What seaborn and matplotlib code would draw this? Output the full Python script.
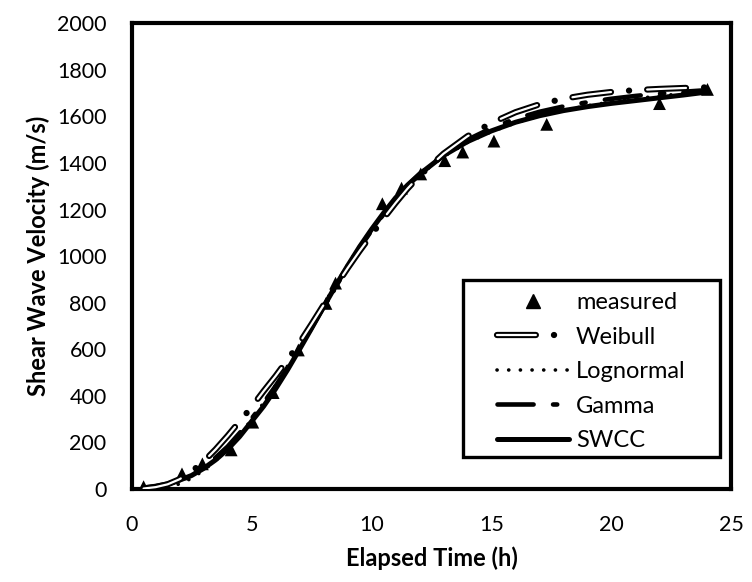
import matplotlib
matplotlib.use('Agg')
import matplotlib.pyplot as plt
import seaborn as sns
from matplotlib.lines import Line2D
from matplotlib.patches import Rectangle
from matplotlib.legend_handler import HandlerTuple

# measured points
t_meas = [0.5, 2.1, 2.95, 4.15, 5.05, 5.9, 6.95, 8.1, 8.5, 10.45, 11.25, 12.05,
          13.05, 13.8, 15.1, 17.3, 22.0, 24.0]
v_meas = [10, 65, 108, 168, 287, 414, 597, 797, 884, 1225, 1292, 1353,
          1410, 1447, 1494, 1566, 1655, 1716]

# fitted curves
t_fit = [0.5, 1, 1.5, 2, 2.5, 3, 3.5, 4, 4.5, 5, 5.5, 6, 6.5, 7, 7.5, 8, 8.5, 9,
         9.5, 10, 10.5, 11, 11.5, 12, 13, 14, 15, 16, 17, 18, 19, 20, 21, 22, 23, 24]
weibull = [2, 8, 20, 42, 75, 118, 170, 228, 290, 352, 420, 485, 555, 628, 708, 790,
           870, 948, 1022, 1092, 1162, 1228, 1290, 1345, 1440, 1515, 1572, 1618,
           1652, 1676, 1693, 1705, 1713, 1718, 1722, 1725]
lognormal = [0, 2, 8, 22, 46, 80, 122, 172, 232, 298, 370, 446, 528, 612, 700, 790,
             878, 962, 1042, 1115, 1183, 1245, 1300, 1348, 1428, 1488, 1535, 1572,
             1602, 1626, 1646, 1662, 1676, 1688, 1698, 1708]
gamma = [3, 9, 20, 38, 62, 95, 135, 182, 240, 302, 370, 442, 522, 605, 692, 780,
         868, 952, 1034, 1110, 1180, 1245, 1302, 1352, 1436, 1500, 1550, 1590,
         1620, 1643, 1661, 1676, 1688, 1698, 1706, 1713]
swcc = [5, 12, 22, 38, 58, 88, 125, 170, 225, 290, 355, 430, 512, 600, 690, 782,
        872, 958, 1040, 1115, 1185, 1250, 1305, 1352, 1432, 1492, 1538, 1575,
        1603, 1625, 1642, 1656, 1668, 1680, 1692, 1705]

sns.set_style('white')
plt.rcParams['font.family'] = ['Lato', 'DejaVu Sans']
plt.rcParams['lines.scale_dashes'] = False
plt.rcParams['text.color'] = 'black'
plt.rcParams['axes.labelcolor'] = 'black'
plt.rcParams['xtick.color'] = 'black'
plt.rcParams['ytick.color'] = 'black'

fig, ax = plt.subplots(figsize=(7.52, 5.82), dpi=100)
fig.subplots_adjust(left=0.175, right=0.9727, top=0.96, bottom=0.1598)

w_black = (0, (28, 13, 0.1, 13))
w_white = (0, (28, 26.1))
dotted = (0, (0.1, 8.3))
g_dash = (0, (26, 14, 3, 14))

sns.scatterplot(x=t_meas, y=v_meas, marker='^', s=85, color='black',
                edgecolor='none', ax=ax, zorder=2, legend=False)
sns.lineplot(x=t_fit, y=swcc, color='black', lw=3.6, ax=ax, zorder=3)
sns.lineplot(x=t_fit, y=gamma, color='black', lw=3.3, linestyle=g_dash,
             dash_capstyle='round', ax=ax, zorder=3)
sns.lineplot(x=t_fit, y=lognormal, color='black', lw=2.6, linestyle=dotted,
             dash_capstyle='round', ax=ax, zorder=3)
sns.lineplot(x=t_fit, y=weibull, color='black', lw=4.5, linestyle=w_black,
             dash_capstyle='round', ax=ax, zorder=4)
sns.lineplot(x=t_fit, y=weibull, color='white', lw=1.6, linestyle=w_white,
             dash_capstyle='round', ax=ax, zorder=4.1)

ax.set_xlim(0, 25)
ax.set_ylim(0, 2000)
ax.set_xticks(range(0, 26, 5))
ax.set_yticks(range(0, 2001, 200))
ax.tick_params(axis='both', direction='in', length=5, width=2.2,
               labelsize=15.5, colors='black')
ax.tick_params(axis='x', pad=19)
ax.tick_params(axis='y', pad=18)
for sp in ax.spines.values():
    sp.set_linewidth(3)
    sp.set_color('black')

ax.set_xlabel('Elapsed Time (h)', fontsize=17, fontweight='bold', labelpad=8)
ax.set_ylabel('Shear Wave Velocity (m/s)', fontsize=17, fontweight='bold', labelpad=5)

# legend with custom frame
h_meas = Line2D([], [], marker='^', ls='none', color='black', markersize=9.5)
h_w = (Line2D([], [], color='black', lw=4.5, ls=w_black, dash_capstyle='round'),
       Line2D([], [], color='white', lw=1.6, ls=w_white, dash_capstyle='round'))
h_l = Line2D([], [], color='black', lw=2.6, ls=dotted, dash_capstyle='round')
h_g = Line2D([], [], color='black', lw=3.3, ls=g_dash, dash_capstyle='round')
h_s = Line2D([], [], color='black', lw=3.6)
ax.legend([h_meas, h_w, h_l, h_g, h_s],
          ['measured', 'Weibull', 'Lognormal', 'Gamma', 'SWCC'],
          handler_map={tuple: HandlerTuple(ndivide=1, pad=0)},
          loc='upper left', bbox_to_anchor=(0.609, 0.423), frameon=False,
          fontsize=17, handlelength=3.05, handletextpad=0.3,
          labelspacing=0.575, borderpad=0, borderaxespad=0)
ax.add_patch(Rectangle((0.5525, 0.0687), 0.4285, 0.38, transform=ax.transAxes,
                       fill=False, edgecolor='black', lw=2.4, zorder=5))

fig.savefig('out.png', dpi=100)
